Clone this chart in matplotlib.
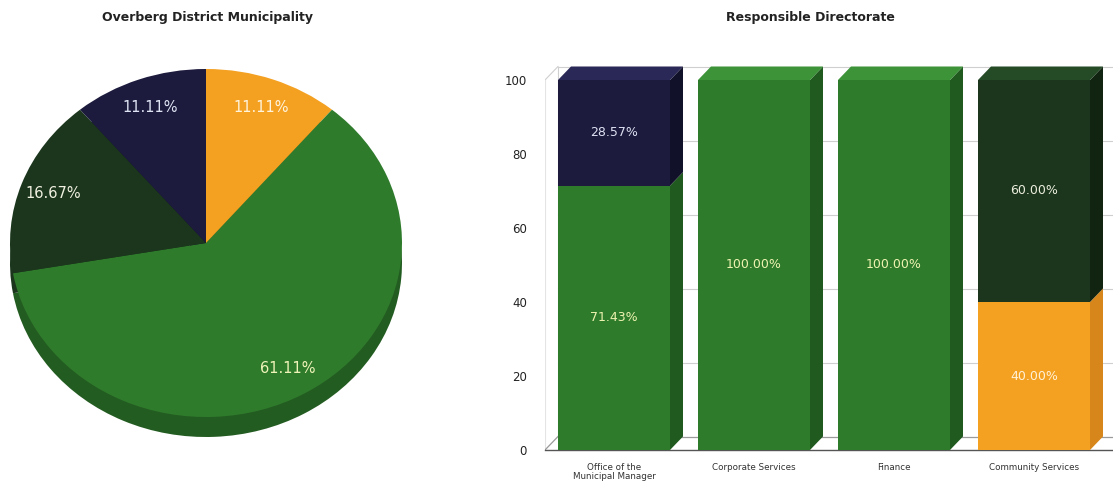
"""Overberg District Municipality KPI status: pie overview and per-directorate stacked columns."""

import matplotlib
matplotlib.use("Agg")
import matplotlib.pyplot as plt
from matplotlib.patches import Polygon

# ---- data -------------------------------------------------------------
pie_values = [11.11, 61.11, 16.67, 11.11]          # clockwise from 12 o'clock
pie_colors = ["#f4a021", "#2f7b2c", "#1b361c", "#1d1b3d"]
pie_side_colors = ["#c98017", "#235c21", "#1b361c", "#13122b"]
pie_text_colors = ["#fff4dc", "#eef3b8", "#f0f0e0", "#dfe4f4"]

directorates = ["Office of the\nMunicipal Manager", "Corporate Services",
                "Finance", "Community Services"]
orange_pct = [0.0, 0.0, 0.0, 40.00]
green_pct = [71.43, 100.00, 100.00, 0.0]
darkgreen_pct = [0.0, 0.0, 0.0, 60.00]
navy_pct = [28.57, 0.0, 0.0, 0.0]
y_ticks = [0, 20, 40, 60, 80, 100]

# stack order bottom -> top, with front / side / top / label colours
series = [
    (orange_pct, "#f4a021", "#d6861a", "#f7b548", "#fff2d8"),
    (green_pct, "#2f7b2c", "#205a1f", "#3c9338", "#eef3b0"),
    (darkgreen_pct, "#1b361c", "#112411", "#254a26", "#eceedd"),
    (navy_pct, "#1d1b3d", "#12112a", "#2a2856", "#dde1f3"),
]

W, H = 1113, 483
fig = plt.figure(figsize=(W / 100, H / 100), dpi=100)


def px_axes(left, top, right, bottom):
    return fig.add_axes([left / W, 1 - bottom / H, (right - left) / W, (bottom - top) / H])


# ---- pie --------------------------------------------------------------
ry_px = 174.0
depth = 20.0 / ry_px
pie_top, pie_bottom = 69, 69 + ry_px * (2 + depth) + 2
ax_pie = px_axes(10, pie_top, 402, pie_bottom)
ax_pie.pie(pie_values, colors=pie_side_colors, startangle=90, counterclock=False,
           center=(0, -depth), wedgeprops=dict(linewidth=0))
wedges, _, autotexts = ax_pie.pie(
    pie_values, colors=pie_colors, startangle=90, counterclock=False,
    autopct="%.2f%%", pctdistance=0.83, wedgeprops=dict(linewidth=0),
    textprops=dict(fontsize=10.5))
for txt, col in zip(autotexts, pie_text_colors):
    txt.set_color(col)
ax_pie.set_aspect("auto")
ax_pie.set_xlim(-1, 1)
ax_pie.set_ylim(1 - (pie_bottom - pie_top) / ry_px, 1)
ax_pie.axis("off")
fig.text(207 / W, 1 - 18 / H, "Overberg District Municipality", ha="center", va="center",
         fontsize=9, fontweight="bold", color="#222222")

# ---- 3d-ish stacked columns ------------------------------------------
px_per_x, px_per_y = 140.0, 3.7
x0_px, y0_px = 614.0, 450.0
bar_w = 0.8
ddx, ddy = 13.0 / px_per_x, 13.5 / px_per_y
ymax = 104.0
left_px = 545.0
ax = px_axes(left_px, y0_px - ymax * px_per_y, W, y0_px)
xmin, xmax = (left_px - x0_px) / px_per_x, (W - x0_px) / px_per_x
ax.set_xlim(xmin, xmax)
ax.set_ylim(0, ymax)
for s in ax.spines.values():
    s.set_visible(False)

# back wall gridlines, left wall and floor
grid_col = "#cfcfcf"
for v in y_ticks[1:]:
    ax.plot([xmin + ddx, xmax], [v + ddy, v + ddy], color=grid_col, lw=0.8, zorder=0)
ax.plot([xmin + ddx, xmin + ddx], [ddy, 100 + ddy], color=grid_col, lw=0.8, zorder=0)
ax.plot([xmin, xmin + ddx], [100, 100 + ddy], color=grid_col, lw=0.8, zorder=0)
ax.plot([xmin, xmin], [0, 100], color="#e4e4e4", lw=0.8, zorder=0)
ax.plot([xmin + ddx, xmax], [ddy, ddy], color="#9a9a9a", lw=0.9, zorder=0)
ax.plot([xmin, xmin + ddx], [0, ddy], color="#9a9a9a", lw=0.9, zorder=0)
ax.plot([xmin, xmax], [0, 0], color="#555555", lw=1.0, zorder=0, clip_on=False)

xs = list(range(len(directorates)))
bottoms = [0.0] * len(xs)
tops = [sum(s[0][i] for s in series) for i in xs]
for values, front, side, top, lab in series:
    for i, x in enumerate(xs):
        h = values[i]
        if h <= 0:
            continue
        b, t = bottoms[i], bottoms[i] + h
        ax.bar(x, h, bar_w, bottom=b, color=front, linewidth=0, zorder=2)
        r = x + bar_w / 2
        ax.add_patch(Polygon([(r, b), (r + ddx, b + ddy), (r + ddx, t + ddy), (r, t)],
                             closed=True, facecolor=side, linewidth=0, zorder=2))
        if abs(t - tops[i]) < 1e-6:
            l = x - bar_w / 2
            ax.add_patch(Polygon([(l, t), (l + ddx, t + ddy), (r + ddx, t + ddy), (r, t)],
                                 closed=True, facecolor=top, linewidth=0, zorder=2))
        ax.text(x, b + h / 2, "%.2f%%" % h, ha="center", va="center",
                fontsize=9, color=lab, zorder=3)
        bottoms[i] = t

ax.set_yticks(y_ticks)
ax.set_yticklabels([str(v) for v in y_ticks])
ax.set_xticks(xs)
ax.set_xticklabels(directorates, fontsize=6.3, color="#333333", linespacing=1.1)
ax.tick_params(axis="y", length=0, pad=13, labelsize=8.5, labelcolor="#222222")
ax.tick_params(axis="x", length=0, pad=9)

fig.text(810 / W, 1 - 18 / H, "Responsible Directorate", ha="center", va="center",
         fontsize=9, fontweight="bold", color="#222222")

fig.savefig("out.png", dpi=100)
